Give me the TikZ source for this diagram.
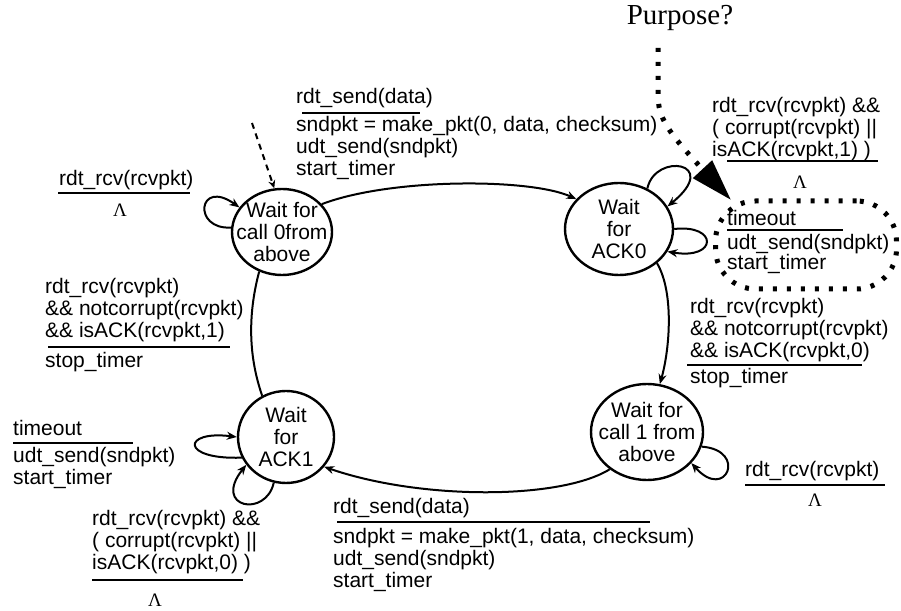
\documentclass[tikz,border=0pt]{standalone}
\usepackage{fontspec}
\setmainfont{Liberation Sans}
\newfontfamily\seriffam{Liberation Serif}
\usetikzlibrary{arrows.meta,shapes.geometric}
\begin{document}
\begin{tikzpicture}[x=1pt,y=1pt,
  state/.style={ellipse, draw, line width=2.4pt, inner sep=-40pt, align=center, font=\fontsize{21}{22}\selectfont},
  lbl/.style={anchor=north west, inner sep=0pt, align=left, font=\fontsize{21}{22}\selectfont},
  lam/.style={inner sep=0pt, font=\seriffam\fontsize{19}{19}\selectfont},
  tr/.style={line width=2pt, -{Stealth[length=10pt,width=8pt]}},
  plain/.style={line width=2pt},
  ul/.style={line width=1.6pt},
  dots/.style={line width=5pt, dash pattern=on 4pt off 10pt},
]
\fill[white] (0,0) rectangle (901,610);
\useasboundingbox (0,0) rectangle (901,610);

% states
\node[state, minimum width=100pt, minimum height=86pt] (S0) at (282,378) {Wait for\\call 0from\\above};
\node[state, minimum width=108pt, minimum height=92pt] (S1) at (619,381) {Wait\\for\\ACK0};
\node[state, minimum width=96pt, minimum height=92pt] (S3) at (286,173) {Wait\\for\\ACK1};
\node[state, minimum width=112pt, minimum height=96pt] (S2) at (647,178) {Wait for\\call 1 from\\above};

% initial arrow
\coordinate (init) at (252,487);
\draw[line width=2pt, dash pattern=on 6pt off 5pt, -{Stealth[length=8pt,width=7pt]}] (init) -- (S0.100);

% transitions
\draw[tr] (S0.35) .. controls (390,432) and (530,432) .. (S1.145);
\draw[tr] (S1.-42) .. controls (674,318) and (670,262) .. (S2.75);
\draw[tr] (S2.-135) .. controls (560,110) and (420,110) .. (S3.-38);
\draw[plain] (S3.120) .. controls (247,258) and (249,300) .. (S0.-120);

% self loops
\draw[tr] (S0.175) .. controls (192,380) and (198,432) .. (S0.150);
\draw[tr] (S1.55) .. controls (655,458) and (722,448) .. (S1.25);
\draw[tr] (S1.0) .. controls (718,386) and (718,350) .. (S1.-25);
\draw[tr] (S2.-15) .. controls (748,160) and (726,108) .. (S2.-35);
\draw[tr] (S3.205) .. controls (180,150) and (182,180) .. (S3.180);
\draw[tr] (S3.255) .. controls (266,92) and (212,102) .. (S3.215);

% labels
\node[lbl] (gA) at (59,440) {rdt\_rcv(rcvpkt)};
\draw[ul] (58,417) -- (190,417);
\node[lam] (lA) at (120,400) {Λ};

\node[lbl] (gB) at (296,522) {rdt\_send(data)};
\draw[ul] (302,497) -- (420,497);
\node[lbl] (aB) at (296,494) {sndpkt = make\_pkt(0, data, checksum)\\udt\_send(sndpkt)\\start\_timer};

\node[lbl] (gC) at (712,513) {rdt\_rcv(rcvpkt) \&\&\\( corrupt(rcvpkt) ||\\isACK(rcvpkt,1) )};
\draw[ul] (727,449) -- (878,449);
\node[lam] (lC) at (800,428) {Λ};

\node[lbl] (gE) at (690,312) {rdt\_rcv(rcvpkt)\\\&\& notcorrupt(rcvpkt)\\\&\& isACK(rcvpkt,0)};
\draw[ul] (687,245) -- (862,245);
\node[lbl] (aE) at (690,242) {stop\_timer};

\node[lbl] (gF) at (745,149) {rdt\_rcv(rcvpkt)};
\draw[ul] (745,125) -- (885,125);
\node[lam] (lF) at (815,110) {Λ};

\node[lbl] (gG) at (333,112) {rdt\_send(data)};
\draw[ul] (337,88) -- (650,88);
\node[lbl] (aG) at (333,82) {sndpkt = make\_pkt(1, data, checksum)\\udt\_send(sndpkt)\\start\_timer};

\node[lbl] (gH) at (45,332) {rdt\_rcv(rcvpkt)\\\&\& notcorrupt(rcvpkt)\\\&\& isACK(rcvpkt,1)};
\draw[ul] (48,263) -- (230,263);
\node[lbl] (aH) at (45,258) {stop\_timer};

\node[lbl] (gI) at (13,190) {timeout};
\draw[ul] (13,167) -- (133,167);
\node[lbl] (aI) at (13,163) {udt\_send(sndpkt)\\start\_timer};

\node[lbl] (gJ) at (92,100) {rdt\_rcv(rcvpkt) \&\&\\( corrupt(rcvpkt) ||\\isACK(rcvpkt,0) )};
\draw[ul] (92,30) -- (243,30);
\node[lam] (lJ) at (155,10) {Λ};

% purpose annotation
\node[inner sep=0pt, font=\seriffam\fontsize{29}{29}\selectfont] (pq) at (680,592) {Purpose?};
\node[draw, dots, rounded corners=40pt, minimum width=181pt, minimum height=88pt, inner sep=0pt] (tmo) at (806,365) {};
\coordinate (pstart) at (658,562);
\coordinate (ptip) at (731,410);
\draw[dots, -{Triangle[length=42pt,width=25pt]}] (pstart) -- (658,515) .. controls (658,492) and (668,478) .. (ptip);

\node[lbl] (gD) at (727,400) {timeout};
\draw[ul] (727,380) -- (843,380);
\node[lbl, font=\fontsize{21}{20}\selectfont] (aD) at (727,376) {udt\_send(sndpkt)\\start\_timer};
\end{tikzpicture}
\end{document}
